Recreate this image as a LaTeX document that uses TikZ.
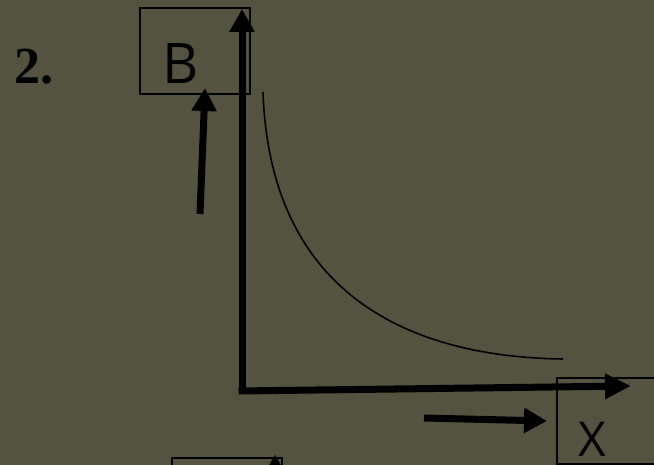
\documentclass[tikz,border=0pt]{standalone}
\usepackage{fontspec}
\setmainfont{Liberation Serif}
\newfontfamily\boxfont{Open Sans}
\usetikzlibrary{arrows.meta}
\definecolor{bg}{RGB}{84,83,64}
\begin{document}
\begin{tikzpicture}[x=1pt,y=-1pt,
  fat/.style={line width=7pt,-{Triangle[width=24pt,length=23pt]}},
  framebox/.style={draw=black,line width=1.6pt,inner sep=0pt,anchor=north west},
  lbl/.style={font=\boxfont\fontsize{56}{56}\selectfont,text=black,inner sep=0pt,anchor=base}]
\fill[bg] (0,0) rectangle (654,465);
\useasboundingbox (0,0) rectangle (654,465);
% label 2.
\node[font=\bfseries\fontsize{52}{52}\selectfont,text=black,inner sep=0pt,anchor=base] (num) at (34,84) {2.};
% box B
\node[framebox,minimum width=110pt,minimum height=86pt] (boxB) at (139,7) {};
\node[lbl] (B) at (181,84) {B};
% box X
\node[framebox,minimum width=110pt,minimum height=86pt] (boxX) at (556,377) {};
\node[lbl,font=\boxfont\fontsize{48}{48}\selectfont] (X) at (592,456) {X};
% bottom box (cut off)
\node[framebox,minimum width=110pt,minimum height=30pt] (boxC) at (171,457) {};
\fill[black] (268,467) -- (275,455) -- (282,467) -- cycle;
% axes
\coordinate (O) at (242,391);
\coordinate (ytop) at (242,9);
\coordinate (xend) at (631,386);
\draw[fat] (O) -- (ytop);
\draw[line width=7pt,-{Triangle[width=24pt,length=26pt]}] ([xshift=-3.5pt]O) -- (xend);
% side arrows
\coordinate (a1s) at (200,214);
\coordinate (a1e) at (205,88);
\draw[fat] (a1s) -- (a1e);
\coordinate (a2s) at (424,418);
\coordinate (a2e) at (547,421);
\draw[fat] (a2s) -- (a2e);
% curve
\coordinate (c1) at (263,92);
\coordinate (c2) at (563,359);
\draw[line width=1.6pt] (c1) .. controls (270,295) and (410,357) .. (c2);
\end{tikzpicture}
\end{document}
